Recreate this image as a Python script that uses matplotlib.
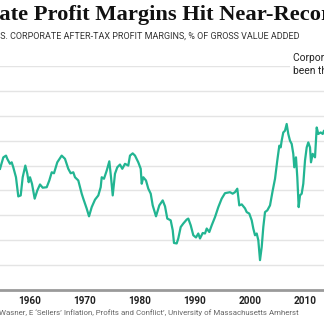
import matplotlib
matplotlib.use("Agg")
import matplotlib.pyplot as plt

# quarterly-ish readings of US corporate after-tax profit margin (% of GVA)
years = [1954.55, 1955.15, 1955.64, 1955.87, 1956.36, 1956.67, 1956.96, 1957.45, 1957.87,
         1958.31, 1958.67, 1959.15, 1959.51, 1959.76, 1960.0, 1960.36, 1960.85, 1961.33,
         1961.82, 1962.31, 1963.04, 1963.51, 1963.95, 1964.36, 1964.96, 1965.76, 1966.36,
         1966.96, 1967.4, 1967.87, 1968.18, 1968.78, 1969.4, 1969.69, 1970.31, 1970.73,
         1971.22, 1971.82, 1972.42, 1972.85, 1973.04, 1973.45, 1973.95, 1974.42, 1974.73,
         1975.04, 1975.45, 1975.87, 1976.36, 1976.78, 1977.27, 1977.87, 1978.18, 1978.67,
         1979.09, 1979.69, 1980.13, 1980.31, 1980.6, 1981.09, 1981.51, 1981.95, 1982.31,
         1982.91, 1983.51, 1984.13, 1984.55, 1984.96, 1985.58, 1985.95, 1986.18, 1986.67,
         1986.96, 1987.4, 1987.87, 1988.49, 1988.78, 1989.22, 1989.69, 1990.18, 1990.6,
         1990.91, 1991.4, 1991.82, 1992.13, 1992.6, 1993.04, 1993.64, 1994.24, 1994.85,
         1995.45, 1996.36, 1996.85, 1997.27, 1997.69, 1998.05, 1998.5, 1999.09, 1999.4,
         1999.87, 2000.31, 2000.6, 2000.91, 2001.22, 2001.51, 2001.82, 2002.13, 2002.42,
         2002.73, 2003.15, 2003.64, 2004.13, 2004.55, 2004.96, 2005.33, 2005.58, 2005.76,
         2006.05, 2006.36, 2006.67, 2006.96, 2007.27, 2007.58, 2007.87, 2008.05, 2008.36,
         2008.6, 2008.85, 2009.09, 2009.4, 2009.69, 2010.0, 2010.31, 2010.6, 2010.91,
         2011.09, 2011.4, 2011.82, 2012.13, 2012.42, 2012.85, 2013.22, 2013.45, 2014.0]
margins = [6.87, 7.33, 7.40, 7.27, 7.07, 7.13, 6.93, 6.53, 5.76,
           5.80, 6.53, 7.00, 6.67, 6.33, 6.53, 6.27, 5.67, 6.00,
           6.24, 6.11, 6.13, 6.40, 6.73, 6.69, 7.13, 7.40, 7.27,
           6.87, 6.69, 6.73, 6.53, 6.40, 5.87, 5.67, 5.27, 4.96,
           5.33, 5.63, 5.80, 6.13, 6.53, 6.47, 6.80, 7.17, 6.53,
           5.80, 6.67, 6.93, 7.04, 6.87, 7.07, 7.00, 7.40, 7.49,
           7.40, 7.13, 6.87, 6.27, 6.53, 6.40, 6.07, 5.87, 5.40,
           4.96, 5.40, 5.60, 5.36, 4.87, 4.80, 4.40, 3.89, 3.87,
           4.07, 4.53, 4.67, 4.83, 4.87, 4.60, 4.20, 4.11, 4.27,
           4.07, 4.29, 4.27, 4.47, 4.33, 4.60, 4.93, 5.33, 5.67,
           5.89, 5.93, 5.87, 5.93, 6.07, 5.40, 5.44, 5.28, 5.13,
           5.07, 4.80, 4.47, 4.20, 4.27, 4.00, 3.20, 3.73, 4.53,
           5.13, 5.20, 5.40, 6.00, 6.47, 7.20, 7.80, 7.73, 8.00,
           8.33, 8.40, 8.67, 8.27, 8.00, 7.87, 7.47, 6.93, 7.33,
           6.53, 5.33, 5.80, 5.87, 6.27, 7.20, 7.73, 7.93, 7.73,
           7.13, 7.47, 7.33, 8.53, 8.27, 8.33, 8.27, 8.40, 8.30]
tick_years = [1960, 1970, 1980, 1990, 2000, 2010]

title = "Corporate Profit Margins Hit Near-Record Highs"
subtitle = "U.S. CORPORATE AFTER-TAX PROFIT MARGINS, % OF GROSS VALUE ADDED"
note = "Corporate profit margins haven't\nbeen this high since the 1950s"
source = "Source: Weber, I and Wasner, E \u2018Sellers\u2019 Inflation, Profits and Conflict\u2019, University of Massachusetts Amherst"

W, H = 324, 330
fig = plt.figure(figsize=(W / 100, H / 100), dpi=100)
renderer = fig.canvas.get_renderer()

sans = ["Roboto", "DejaVu Sans"]


def text_width(s, **kw):
    t = fig.text(0, 0, s + "x", **kw)
    w1 = t.get_window_extent(renderer).width
    t.set_text("x")
    w2 = t.get_window_extent(renderer).width
    t.remove()
    return w1 - w2


def cropped_text(full, hidden, x_px, y_px, right_px=None, **kw):
    # shrink so the visible part ends at right_px, then push the hidden prefix off the left edge
    if right_px is not None:
        vis_w = text_width(full[len(hidden):], **kw)
        kw["fontsize"] = kw["fontsize"] * (right_px - x_px) / vis_w
    shift = text_width(hidden, **kw)
    return fig.text((x_px - shift) / W, 1 - y_px / H, full, va="center", ha="left", **kw)


ax = fig.add_axes([0, 40 / H, 1, (290 - 66) / H])
ax.plot(years, margins, color="#22b592", lw=1.6, solid_joinstyle="round")
ax.set_xlim(1954.545, 2013.455)
ax.set_ylim(2, 11)
ax.set_yticks(range(3, 12))
ax.yaxis.grid(True, color="#e4e4e4", lw=1)
ax.set_axisbelow(True)
ax.tick_params(axis="y", length=0, labelleft=False)
ax.set_xticks(tick_years)
ax.set_xticklabels([str(y) for y in tick_years], family=sans, fontweight="bold",
                   fontsize=7.2, color="#222222")
ax.tick_params(axis="x", length=0, pad=4.5)
for s in ["top", "right", "left"]:
    ax.spines[s].set_visible(False)
ax.spines["bottom"].set_color("#9a9a9a")
ax.spines["bottom"].set_linewidth(2)

cropped_text(title, "Corpor", -0.5, 15, family="Liberation Serif", fontweight="bold",
             fontsize=16.2, color="#111111")
cropped_text(subtitle, "U.", 0, 36, right_px=297, family=sans, fontsize=7.5,
             color="#333333")
cropped_text(source, "Source: Weber, I and ", -1, 313, right_px=300, family=sans,
             fontsize=6.3, color="#666666")

fig.text(293 / W, 1 - 64 / H, note, family=sans, fontsize=7.4, color="#222222",
         va="center", ha="left", linespacing=1.3,
         bbox=dict(facecolor="white", edgecolor="none", pad=2))

fig.savefig("out.png", dpi=100)
